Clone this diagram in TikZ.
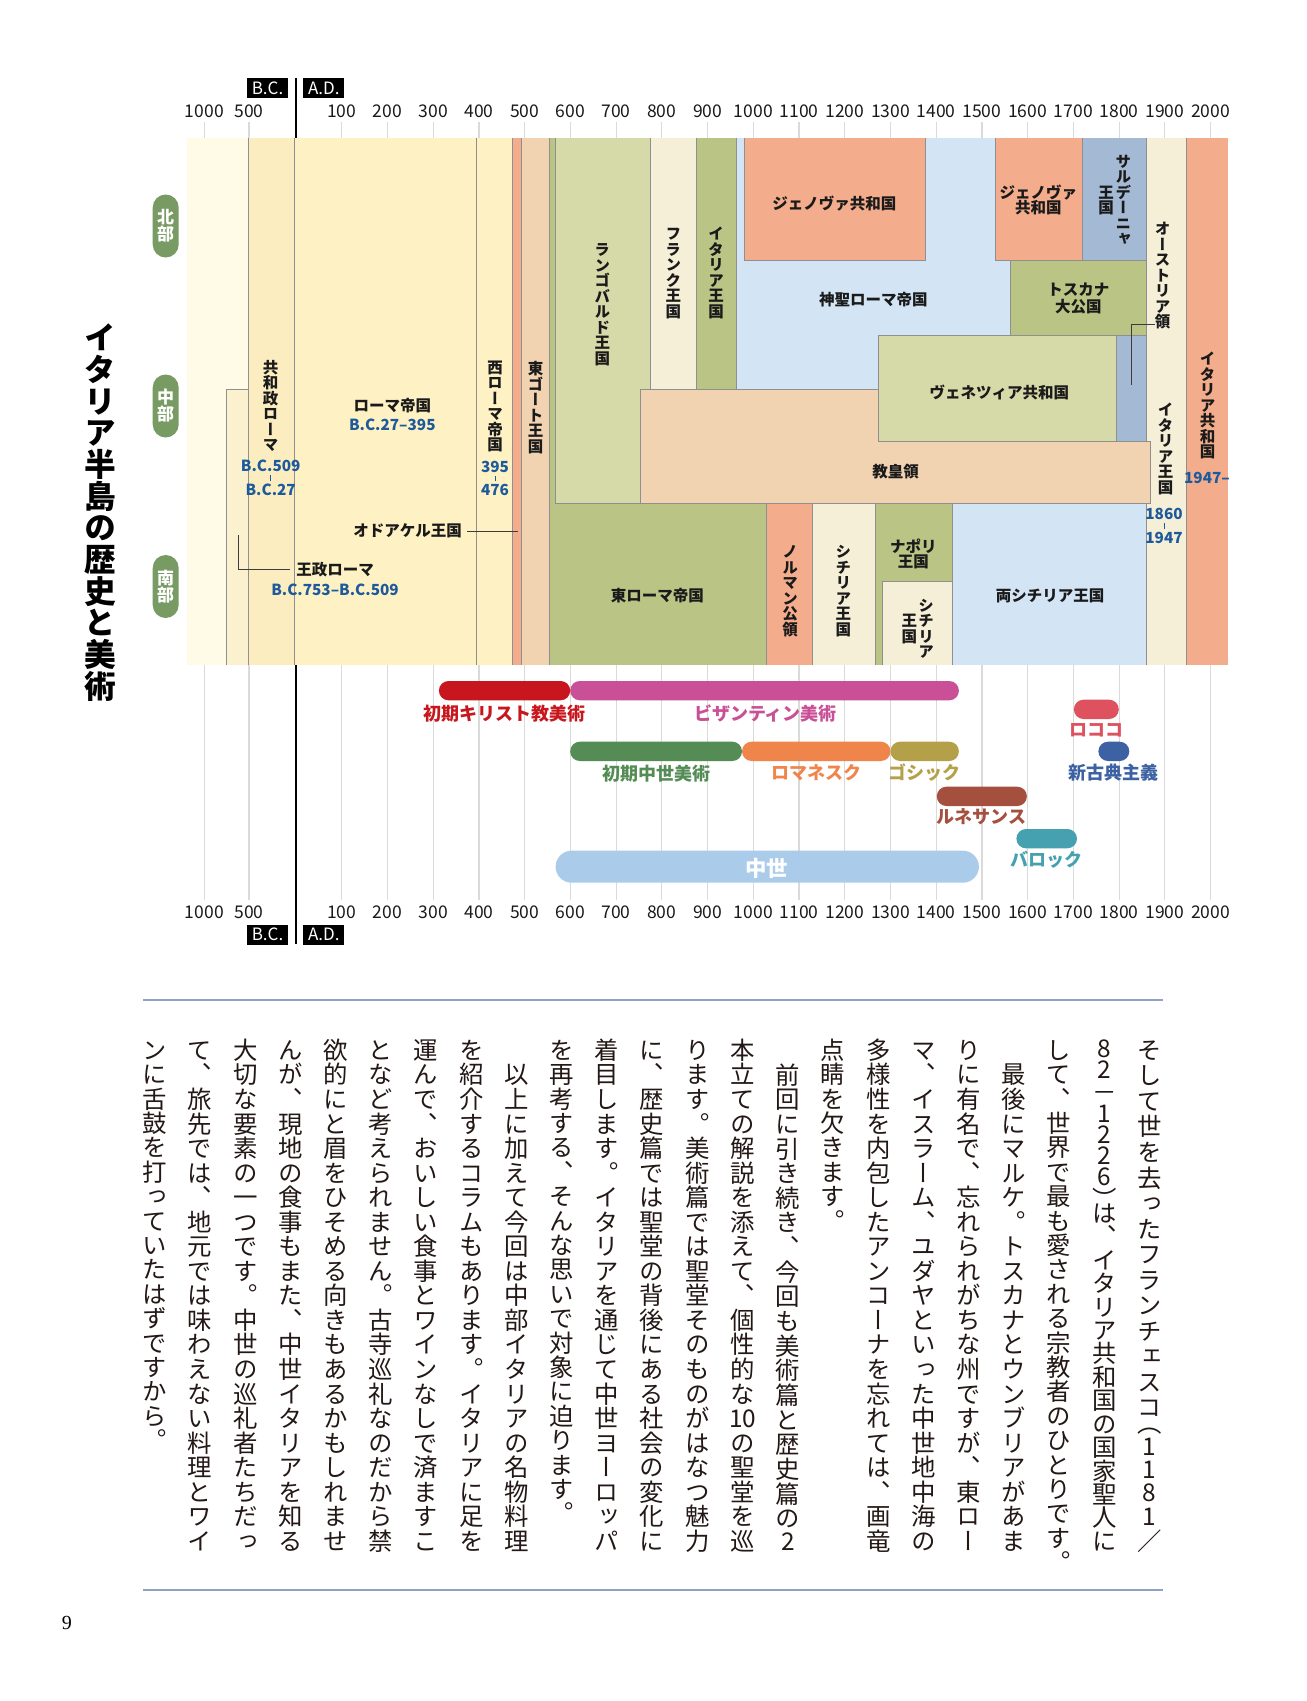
\documentclass[tikz,border=0pt]{standalone}
\usepackage{fontspec}
\setmainfont{Noto Sans CJK JP}
\newfontfamily\jpv[RawFeature=+vert]{Noto Sans CJK JP}
\newfontfamily\pgnum{Liberation Serif}

% ---------- vertical (tategaki) text by stacking cells ----------
\newif\iftfirst
\def\tend{TENDMARKER}
\def\tcell#1{%
  \setbox0\hbox{#1}%
  \def\tht{0.88em}\def\tdp{0.12em}%
  \ifdim\wd0<0.7em \def\tht{0.79em}\def\tdp{0.11em}\fi
  \ifx（#1\def\tht{0.48em}\def\tdp{0.12em}\fi
  \ifx）#1\def\tht{0.88em}\def\tdp{-0.28em}\fi
  \iftfirst\tfirstfalse\else\tglue\fi
  \setbox0\hbox to 1em{\hss#1\hss}%
  \ht0=\tht \dp0=\tdp
  \box0 }
\def\tloop#1{\ifx\tend#1\else\tcell{#1}\expandafter\tloop\fi}
\newcommand\tatenat[1]{\vbox{\offinterlineskip\tfirsttrue\let\tglue\relax\tloop#1\tend}}
\newcommand\tatejust[1]{\vbox to 21em{\offinterlineskip\tfirsttrue\def\tglue{\vskip 0pt plus 1fil minus 0.05em}\tloop#1\tend}}

% ---------- colours ----------
\definecolor{paleL}{HTML}{FFFBE6}
\definecolor{kingC}{HTML}{FCF1CF}
\definecolor{repC}{HTML}{FCEDC0}
\definecolor{empC}{HTML}{FEF1C4}
\definecolor{salmonC}{HTML}{F4AD8C}
\definecolor{peachC}{HTML}{F1D3B1}
\definecolor{greenC}{HTML}{B9C485}
\definecolor{lgreenC}{HTML}{D6D9A8}
\definecolor{creamC}{HTML}{F5EFD8}
\definecolor{blueC}{HTML}{D3E4F4}
\definecolor{bgrayC}{HTML}{A4BAD4}
\definecolor{bordergray}{HTML}{8F8F8F}
\definecolor{labelblack}{HTML}{1A1A1A}
\definecolor{dateblue}{HTML}{1D5A9C}
\definecolor{pillgreen}{HTML}{789A63}
\definecolor{gridgray}{HTML}{DADADA}
\definecolor{rulebl}{HTML}{8FA1C8}
\definecolor{bodyblack}{HTML}{231815}
\definecolor{ecRed}{HTML}{C8161E}
\definecolor{byzPink}{HTML}{C94F96}
\definecolor{emGreen}{HTML}{558C55}
\definecolor{romOrange}{HTML}{F0854B}
\definecolor{gotOlive}{HTML}{B5A04A}
\definecolor{renBrown}{HTML}{A54F3E}
\definecolor{barTeal}{HTML}{45A1AF}
\definecolor{rocRed}{HTML}{DE525F}
\definecolor{neoBlue}{HTML}{3D62A3}
\definecolor{medBlue}{HTML}{ABCBEA}

\tikzset{
  reg/.style={draw=bordergray, line width=0.9pt},
  lbl/.style={inner sep=0, text=labelblack, font=\bfseries\fontsize{15.5}{15.5}\selectfont, align=center},
  vlbl/.style={inner sep=0, text=labelblack, font=\jpv\bfseries\fontsize{15.5}{15.5}\selectfont},
  dlbl/.style={inner sep=0, text=dateblue, font=\bfseries\fontsize{15.3}{15.3}\selectfont},
  ticklbl/.style={inner sep=0, text=labelblack, font=\fontsize{17.5}{17.5}\selectfont},
  era/.style={fill=black, text=white, inner sep=0, minimum width=41pt, minimum height=20pt, font=\fontsize{17}{17}\selectfont},
  pill/.style={fill=pillgreen, text=white, rounded corners=13pt, minimum width=26pt, minimum height=63pt, inner sep=0, font=\jpv\bfseries\fontsize{17}{17}\selectfont},
  artlbl/.style={inner sep=0, font=\bfseries\fontsize{18}{18}\selectfont},
  leader/.style={draw=labelblack!85, line width=0.9pt},
  bodycol/.style={inner sep=0, anchor=north, text=bodyblack, font=\jpv\fontsize{24.4}{24.4}\selectfont},
}
\newcommand\bcol[4]{\node[bodycol] (#1) at (#2,1037.7) {#3{#4}};}

\begin{document}
\begin{tikzpicture}[x=1pt,y=-1pt]
\useasboundingbox (0,0) rectangle (1307,1701);
\fill[white] (0,0) rectangle (1307,1701);

% ---------- grid and ticks ----------
\foreach \xx in {204.3,249.0} {
  \draw[gridgray, line width=1.2pt] (\xx,121.7) -- (\xx,138);
  \draw[gridgray, line width=1.2pt] (\xx,665) -- (\xx,900);
}
\foreach \k in {1,...,20} {
  \pgfmathsetmacro\xx{296+\k*45.73}
  \draw[gridgray, line width=1.2pt] (\xx,121.7) -- (\xx,138);
  \draw[gridgray, line width=1.2pt] (\xx,665) -- (\xx,900);
  \node[ticklbl] (tt\k) at (\xx,111.3) {\the\numexpr\k*100\relax};
  \node[ticklbl] (tb\k) at (\xx,912.3) {\the\numexpr\k*100\relax};
}
\node[ticklbl] (tt1000) at (204.3,111.3) {1000};
\node[ticklbl] (tt500) at (249.0,111.3) {500};
\node[ticklbl] (tb1000) at (204.3,912.3) {1000};
\node[ticklbl] (tb500) at (249.0,912.3) {500};

% thick zero line
\draw[black, line width=2.4pt] (296,77.7) -- (296,944);

% era boxes
\node[era] (bcT) at (267.5,87.9) {B.C.};
\node[era] (adT) at (323.8,87.9) {A.D.};
\node[era] (bcB) at (267.5,934.5) {B.C.};
\node[era] (adB) at (323.8,934.5) {A.D.};

% ---------- chart regions ----------
\begin{scope}
\clip (186.7,138.5) rectangle (1227.9,664.5);
\fill[paleL] (186.7,130) rectangle (249,670);
\fill[kingC] (226,389.5) rectangle (248.7,670);
\draw[reg] (226,670) -- (226,389.5) -- (248.7,389.5);
\fill[repC] (248.7,130) rectangle (294,670);
\fill[empC] (294,130) rectangle (512.7,670);
\draw[reg] (248.7,130) -- (248.7,670);
\draw[reg] (294,130) -- (294,670);
\draw[reg] (476.6,130) -- (476.6,670);
\filldraw[reg, fill=salmonC] (512.7,130) rectangle (521.7,670);
\filldraw[reg, fill=peachC] (521.7,130) rectangle (549.3,670);
\filldraw[reg, fill=greenC] (549.3,130) rectangle (766.7,670);
\filldraw[reg, fill=lgreenC] (555,130) rectangle (650.7,503.6);
\filldraw[reg, fill=creamC] (650.7,130) rectangle (696,389.5);
\filldraw[reg, fill=greenC] (696,130) rectangle (736,389.5);
\filldraw[reg, fill=blueC] (736,130) rectangle (1146.7,389.5);
\filldraw[reg, fill=salmonC] (744,130) rectangle (925.7,260.2);
\filldraw[reg, fill=salmonC] (995,130) rectangle (1082.3,260.2);
\filldraw[reg, fill=bgrayC] (1082.3,130) rectangle (1146.7,260.2);
\filldraw[reg, fill=greenC] (1010.7,260.2) rectangle (1146.7,335.2);
\filldraw[reg, fill=creamC] (1146.7,130) rectangle (1186.7,670);
\filldraw[reg, fill=salmonC] (1186.7,130) rectangle (1235,670);
\filldraw[reg, fill=peachC] (640.3,389.5) -- (1146.7,389.5) -- (1146.7,441.2) -- (1150.7,441.2) -- (1150.7,503.6) -- (640.3,503.6) -- cycle;
\filldraw[reg, fill=lgreenC] (878.3,335.2) rectangle (1116.7,441.2);
\filldraw[reg, fill=bgrayC] (1116.7,335.2) rectangle (1146.7,441.2);
\filldraw[reg, fill=salmonC] (766.7,503.6) rectangle (812.7,670);
\filldraw[reg, fill=creamC] (812.7,503.6) rectangle (875,670);
\filldraw[reg, fill=greenC] (875,503.6) rectangle (952.3,670);
\filldraw[reg, fill=creamC] (882.7,581.6) rectangle (952.3,670);
\filldraw[reg, fill=blueC] (952.3,503.6) rectangle (1146.7,670);
\end{scope}

% ---------- chart labels ----------
\node[vlbl] (lRep) at (270.7,406) {\tatenat{共和政ローマ}};
\node[dlbl] (dRep1) at (270.7,466) {B.C.509};
\node[dlbl] (dRep2) at (270.7,490) {B.C.27};
\draw[dateblue, line width=0.9pt, shorten >=3pt, shorten <=3pt] (dRep1.south) -- (dRep2.north);

\node[lbl] (lEmp) at (392.3,405.2) {ローマ帝国};
\node[dlbl] (dEmp) at (392.3,424.3) {B.C.27–395};

\node[vlbl] (lWest) at (495,406) {\tatenat{西ローマ帝国}};
\node[dlbl] (dWest1) at (495,467) {395};
\node[dlbl] (dWest2) at (495,490) {476};
\draw[dateblue, line width=0.9pt, shorten >=3pt, shorten <=3pt] (dWest1.south) -- (dWest2.north);

\node[vlbl] (lGoth) at (535.7,407.8) {\tatenat{東ゴート王国}};

\node[lbl] (lOdo) at (407.7,531) {オドアケル王国};
\coordinate (odoE) at (517.7,531);
\draw[leader] ([xshift=5pt]lOdo.east) -- (odoE);

\node[lbl] (lKing) at (335,569.4) {王政ローマ};
\node[dlbl] (dKing) at (335,589.7) {B.C.753–B.C.509};
\coordinate (kingT) at (238.3,535);
\draw[leader] (kingT) |- ([xshift=-6pt]lKing.west);

\node[vlbl] (lLomb) at (602.3,304.3) {\tatenat{ランゴバルド王国}};
\node[vlbl] (lFrank) at (673.3,272.8) {\tatenat{フランク王国}};
\node[vlbl] (lItK) at (716,272.8) {\tatenat{イタリア王国}};
\node[lbl] (lGen1) at (834.3,203.2) {ジェノヴァ共和国};
\node[lbl] (lHRE) at (873.3,299.6) {神聖ローマ帝国};
\node[lbl, font=\bfseries\fontsize{15.5}{15.3}\selectfont] (lGen2) at (1038.3,200.2) {ジェノヴァ\\共和国};
\node[vlbl] (lSard) at (1123.3,200) {\tatenat{サルデーニャ}};
\node[vlbl] (lSard2) at (1106,200) {\tatenat{王国}};
\node[lbl, font=\bfseries\fontsize{15.5}{16.5}\selectfont] (lTusc) at (1078.3,298.3) {トスカナ\\大公国};
\node[lbl] (lVen) at (999.3,392.6) {ヴェネツィア共和国};
\node[lbl] (lPap) at (895.7,471.8) {教皇領};

\node[vlbl] (lAust) at (1162.7,275.5) {\tatenat{オーストリア領}};
\coordinate (austE) at (1131.7,385);
\draw[leader] ([yshift=6pt]lAust.south west) -| (austE);

\node[vlbl] (lItK2) at (1165.7,448.8) {\tatenat{イタリア王国}};
\node[dlbl] (dItK1) at (1164,513.9) {1860};
\node[dlbl] (dItK2) at (1164,537.6) {1947};
\draw[dateblue, line width=0.9pt, shorten >=3pt, shorten <=3pt] (dItK1.south) -- (dItK2.north);

\node[vlbl] (lItR) at (1207.7,405.5) {\tatenat{イタリア共和国}};
\node[dlbl] (dItR) at (1207,477.5) {1947–};

\node[lbl] (lER) at (657.3,595.4) {東ローマ帝国};
\node[vlbl] (lNorm) at (790,590.4) {\tatenat{ノルマン公領}};
\node[vlbl] (lSic) at (843.3,590.4) {\tatenat{シチリア王国}};
\node[lbl, font=\bfseries\fontsize{15.5}{15.3}\selectfont] (lNap) at (913.3,554) {ナポリ\\王国};
\node[vlbl] (lSicS) at (926,628.5) {\tatenat{シチリア}};
\node[vlbl] (lSicS2) at (909.3,628.5) {\tatenat{王国}};
\node[lbl] (l2Sic) at (1050,596.2) {両シチリア王国};

% ---------- side pills and title ----------
\node[pill] (pN) at (165.7,226) {\tatenat{北部}};
\node[pill] (pC) at (165.7,406) {\tatenat{中部}};
\node[pill] (pS) at (165.7,586.5) {\tatenat{南部}};
\node[inner sep=0, text=black, font=\jpv\bfseries\fontsize{31.7}{31.7}\selectfont] (title) at (100,511.9) {\tatenat{イタリア半島の歴史と美術}};

% ---------- art periods ----------
\fill[ecRed, rounded corners=9.6pt] (438.9,681) rectangle (570.2,700.3);
\fill[byzPink, rounded corners=9.6pt] (570.2,681) rectangle (958.9,700.3);
\fill[rocRed, rounded corners=9.6pt] (1073.9,699.7) rectangle (1118.8,719);
\fill[emGreen, rounded corners=9.6pt] (570.2,741.7) rectangle (742,761);
\fill[romOrange, rounded corners=9.6pt] (742,741.7) rectangle (890.5,761);
\fill[gotOlive, rounded corners=9.6pt] (890.5,741.7) rectangle (958.9,761);
\fill[neoBlue, rounded corners=9.6pt] (1098.4,741.7) rectangle (1129.3,761);
\fill[renBrown, rounded corners=9.6pt] (936.8,786.7) rectangle (1026.9,806);
\fill[barTeal, rounded corners=9.6pt] (1016.4,829) rectangle (1077,848.3);
\fill[medBlue, rounded corners=16pt] (555.6,850.7) rectangle (978.9,882.7);

\node[artlbl, text=ecRed] (aEC) at (504,713.3) {初期キリスト教美術};
\node[artlbl, text=byzPink] (aByz) at (765.5,713.3) {ビザンティン美術};
\node[artlbl, text=rocRed] (aRoc) at (1096.4,730) {ロココ};
\node[artlbl, text=emGreen] (aEM) at (656,773.3) {初期中世美術};
\node[artlbl, text=romOrange] (aRom) at (816.8,772.7) {ロマネスク};
\node[artlbl, text=gotOlive] (aGot) at (924.5,772.7) {ゴシック};
\node[artlbl, text=neoBlue] (aNeo) at (1113.2,772.7) {新古典主義};
\node[artlbl, text=renBrown] (aRen) at (981.7,816.7) {ルネサンス};
\node[artlbl, text=barTeal] (aBar) at (1046.5,859.3) {バロック};
\node[artlbl, text=white, font=\bfseries\fontsize{21.4}{21.4}\selectfont] (aMed) at (766.6,868.3) {中世};

% ---------- body text ----------
\draw[rulebl, line width=2.2pt] (143,1000) -- (1163,1000);
\draw[rulebl, line width=2.2pt] (143,1590) -- (1163,1590);

\bcol{c1}{1149.5}{\tatejust}{そして世を去ったフランチェスコ（1181／}
\bcol{c2}{1104.29}{\tatejust}{82－1226）は、イタリア共和国の国家聖人に}
\bcol{c3}{1059.08}{\tatenat}{して、世界で最も愛される宗教者のひとりです。}
\bcol{c4}{1013.87}{\tatejust}{　最後にマルケ。トスカナとウンブリアがあま}
\bcol{c5}{968.66}{\tatejust}{りに有名で、忘れられがちな州ですが、東ロー}
\bcol{c6}{923.45}{\tatejust}{マ、イスラーム、ユダヤといった中世地中海の}
\bcol{c7}{878.24}{\tatejust}{多様性を内包したアンコーナを忘れては、画竜}
\bcol{c8}{833.03}{\tatenat}{点睛を欠きます。}
\bcol{c9}{787.82}{\tatejust}{　前回に引き続き、今回も美術篇と歴史篇の2}
\bcol{c10}{742.61}{\tatejust}{本立ての解説を添えて、個性的な{10}の聖堂を巡}
\bcol{c11}{697.40}{\tatejust}{ります。美術篇では聖堂そのものがはなつ魅力}
\bcol{c12}{652.19}{\tatejust}{に、歴史篇では聖堂の背後にある社会の変化に}
\bcol{c13}{606.98}{\tatejust}{着目します。イタリアを通じて中世ヨーロッパ}
\bcol{c14}{561.77}{\tatenat}{を再考する、そんな思いで対象に迫ります。}
\bcol{c15}{516.56}{\tatejust}{　以上に加えて今回は中部イタリアの名物料理}
\bcol{c16}{471.35}{\tatejust}{を紹介するコラムもあります。イタリアに足を}
\bcol{c17}{426.14}{\tatejust}{運んで、おいしい食事とワインなしで済ますこ}
\bcol{c18}{380.93}{\tatejust}{となど考えられません。古寺巡礼なのだから禁}
\bcol{c19}{335.72}{\tatejust}{欲的にと眉をひそめる向きもあるかもしれませ}
\bcol{c20}{290.51}{\tatejust}{んが、現地の食事もまた、中世イタリアを知る}
\bcol{c21}{245.30}{\tatejust}{大切な要素の一つです。中世の巡礼者たちだっ}
\bcol{c22}{200.09}{\tatejust}{て、旅先では、地元では味わえない料理とワイ}
\bcol{c23}{154.88}{\tatenat}{ンに舌鼓を打っていたはずですから。}

\node[inner sep=0, font=\pgnum\fontsize{20}{20}\selectfont] (pnum) at (66.8,1623.3) {9};
\end{tikzpicture}
\end{document}
